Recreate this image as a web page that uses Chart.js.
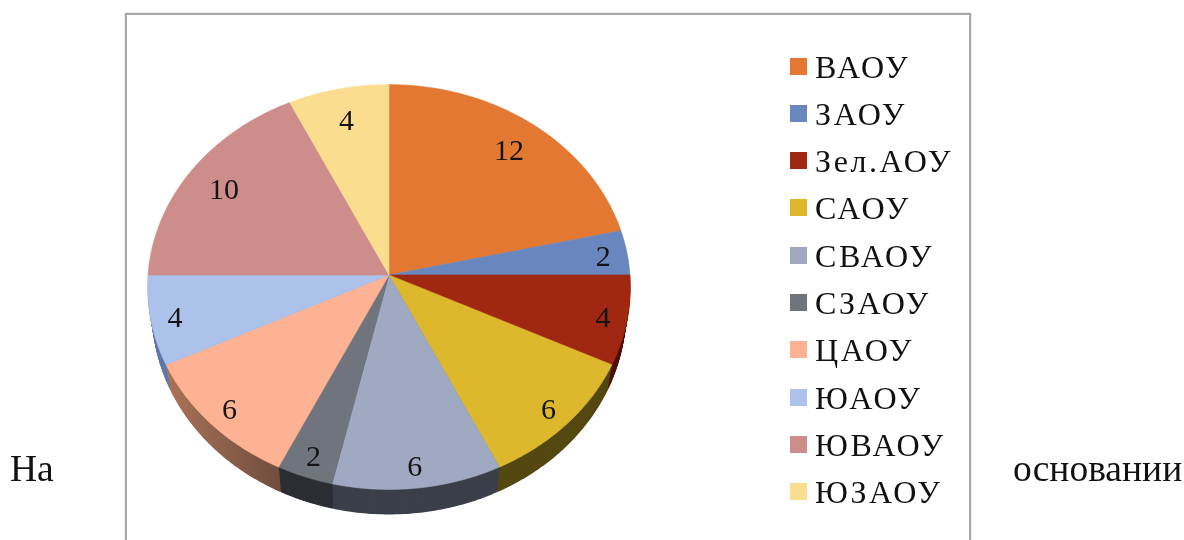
<!DOCTYPE html>
<html lang="ru">
<head>
    <meta charset="UTF-8">
    <title>Распределение по округам</title>
    <script src="https://cdn.jsdelivr.net/npm/chart.js"></script>
    <style>
        html, body { margin: 0; padding: 0; background: #fff; overflow: hidden; }
        #page { position: relative; width: 1184px; height: 540px; font-family: "Liberation Serif", serif; color: #111; filter: blur(0.45px); }
        #frame { position: absolute; left: 125px; top: 13px; width: 842px; height: 540px; border: 2px solid #a8a8a8; box-shadow: 0 0 1px #999; }
        #wrap { position: absolute; left: 0; top: 0; width: 1184px; height: 540px; }
        #legend { position: absolute; left: 790px; top: 43.5px; margin: 0; padding: 0; list-style: none; }
        #legend li { height: 47.3px; line-height: 47.3px; font-size: 32px; letter-spacing: 2.6px; white-space: nowrap; }
        #legend span { display: inline-block; width: 17px; height: 17px; margin-right: 8px; vertical-align: 3px; }
        .side { position: absolute; top: 447px; font-size: 37.5px; line-height: 44px; }
    </style>
</head>
<body>
<div id="page">
    <div class="side" style="left: 10px;">На</div>
    <div class="side" style="left: 1013px;">основании</div>
    <div id="frame"></div>
    <div id="wrap"><canvas id="pieChart" width="1184" height="540"></canvas></div>
    <ul id="legend"></ul>
</div>

<script>
    const districts = ['ВАОУ', 'ЗАОУ', 'Зел.АОУ', 'САОУ', 'СВАОУ', 'СЗАОУ', 'ЦАОУ', 'ЮАОУ', 'ЮВАОУ', 'ЮЗАОУ'];
    const counts = [12, 2, 4, 6, 6, 2, 6, 4, 10, 4];
    const faceColors = ['#e27832', '#6a86be', '#a02712', '#ddb82c', '#9fa9c1', '#70757d', '#fdb393', '#adc2eb', '#cd8d8a', '#fadd8e'];
    const sideColors = ['#e27832', '#6a86be', '#4e0f08', '#544810', '#3b3f4a', '#2c2e33', '#8f6049', '#5f78aa', '#cd8d8a', '#fadd8e'];

    // the picture is a 3d pie seen in perspective, so the rim is projected
    const squash = 0.837;
    const tilt = 0.0594;
    const depth = 25;

    function project(arc, angle, r) {
        const ux = r * Math.cos(angle);
        const uy = r * Math.sin(angle);
        const w = 1 - tilt * uy;
        return {
            x: arc.x + arc.outerRadius * ux / w,
            y: arc.y + arc.outerRadius * squash * uy / w
        };
    }

    function sectorPath(ctx, arc, dy, sx) {
        ctx.beginPath();
        ctx.moveTo(arc.x, arc.y + dy);
        const steps = 48;
        for (let s = 0; s <= steps; s++) {
            const a = arc.startAngle + (arc.endAngle - arc.startAngle) * s / steps;
            const p = project(arc, a, 1);
            ctx.lineTo(arc.x + (p.x - arc.x) * sx, p.y + dy);
        }
        ctx.closePath();
    }

    function isBack(arc) {
        return Math.sin((arc.startAngle + arc.endAngle) / 2) < 0;
    }

    const tiltedPie = {
        id: 'tiltedPie',
        beforeDatasetsDraw(chart) {
            const ctx = chart.ctx;
            const arcs = chart.getDatasetMeta(0).data;

            // side wall, only the front half shows
            for (let d = depth; d >= 1; d--) {
                arcs.forEach((arc, i) => {
                    if (isBack(arc)) return;
                    sectorPath(ctx, arc, d, 1 - 0.018 * d / depth);
                    let fill = sideColors[i];
                    if (districts[i] === 'ЦАОУ') {
                        // this wall fades from light brown to dark brown
                        fill = ctx.createLinearGradient(165, 0, 280, 0);
                        fill.addColorStop(0, '#ab7358');
                        fill.addColorStop(1, '#6f4d3e');
                    }
                    ctx.fillStyle = fill;
                    ctx.fill();
                });
            }

            // top face
            arcs.forEach((arc, i) => {
                sectorPath(ctx, arc, 0, 1);
                ctx.fillStyle = faceColors[i];
                ctx.strokeStyle = faceColors[i];
                ctx.lineWidth = 0.6;
                ctx.fill();
                ctx.stroke();
            });

            // value labels near the rim
            ctx.fillStyle = '#141414';
            ctx.font = '30px "Liberation Serif"';
            ctx.textAlign = 'center';
            ctx.textBaseline = 'middle';
            arcs.forEach((arc, i) => {
                const mid = (arc.startAngle + arc.endAngle) / 2;
                const wide = Math.abs(Math.cos(mid)) > 0.9;
                const p = project(arc, mid, wide || !isBack(arc) ? 0.9 : 0.83);
                ctx.fillText(String(counts[i]), p.x, p.y + 3);
            });
            return false;
        }
    };

    new Chart(document.getElementById('pieChart').getContext('2d'), {
        type: 'pie',
        data: {
            labels: districts,
            datasets: [{ data: counts, backgroundColor: faceColors, borderWidth: 0 }]
        },
        options: {
            responsive: false,
            animation: false,
            layout: { padding: { left: 148, right: 554, top: 34, bottom: 24 } },
            plugins: { legend: { display: false }, tooltip: { enabled: false } }
        },
        plugins: [tiltedPie]
    });

    // html legend, the swatches sit well apart from the pie like in the original
    const legend = document.getElementById('legend');
    districts.forEach((name, i) => {
        const li = document.createElement('li');
        const box = document.createElement('span');
        box.style.background = faceColors[i];
        li.appendChild(box);
        li.appendChild(document.createTextNode(name));
        legend.appendChild(li);
    });
</script>
</body>
</html>
